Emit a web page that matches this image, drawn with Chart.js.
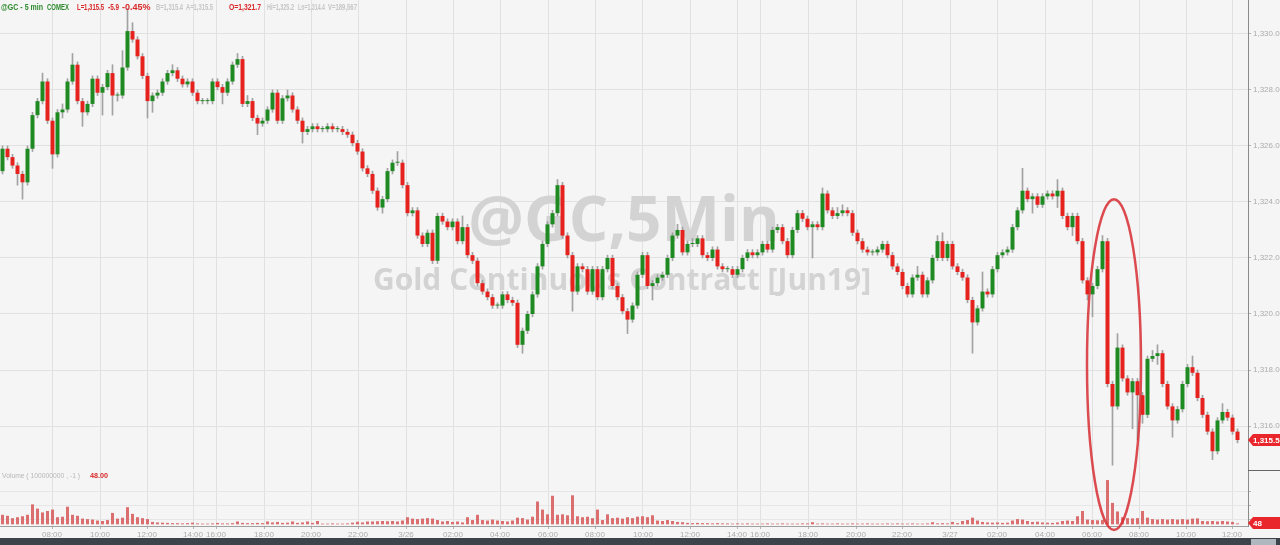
<!DOCTYPE html>
<html>
<head>
<meta charset="utf-8">
<title>@GC 5 min</title>
<script src="https://cdn.jsdelivr.net/npm/chart.js@4.4.1/dist/chart.umd.min.js"></script>
<style>
  html, body { margin: 0; padding: 0; background: #f5f5f5; }
  #wrap { width: 1280px; height: 545px; }
</style>
</head>
<body>
<div id="wrap"><canvas id="goldChart" width="1280" height="545"></canvas></div>
<script>
// --- data (one candle ~ 12.5 min) ---
const opens = [
  1325.1,1325.9,1325.6,1325.3,1325.0,1324.7,1325.9,1327.1,1327.6,1328.3,
  1326.9,1325.7,1327.2,1327.3,1328.3,1328.9,1327.6,1327.2,1327.5,1328.4,
  1327.9,1328.1,1328.6,1327.8,1327.8,1328.8,1330.1,1329.8,1329.2,1328.5,
  1327.6,1327.8,1327.9,1328.3,1328.6,1328.7,1328.4,1328.2,1328.3,1327.9,
  1327.6,1327.6,1327.6,1328.3,1328.1,1327.9,1328.3,1328.9,1329.1,1327.5,
  1327.6,1327.0,1326.8,1326.9,1327.3,1327.9,1326.9,1327.7,1327.8,1327.3,
  1326.9,1326.5,1326.6,1326.7,1326.6,1326.6,1326.7,1326.6,1326.6,1326.5,
  1326.4,1326.1,1325.8,1325.2,1325.0,1324.4,1323.8,1324.1,1325.1,1325.4,
  1325.4,1324.6,1323.6,1323.7,1322.8,1322.5,1322.9,1321.9,1323.5,1323.3,
  1323.1,1323.3,1322.6,1323.1,1322.1,1321.9,1321.1,1320.8,1320.6,1320.3,
  1320.3,1320.7,1320.5,1320.4,1318.9,1319.4,1320.0,1320.7,1321.7,1322.5,
  1323.2,1323.6,1324.6,1322.8,1322.1,1320.8,1321.7,1321.6,1320.8,1321.6,
  1320.6,1321.6,1322.0,1321.0,1320.6,1320.1,1319.8,1320.3,1321.4,1322.1,
  1321.0,1321.1,1321.3,1321.4,1322.0,1322.8,1323.0,1322.2,1322.5,1322.5,
  1322.7,1322.1,1322.0,1322.3,1321.7,1321.6,1321.6,1321.4,1321.6,1322.0,
  1322.2,1322.1,1322.2,1322.5,1322.3,1323.0,1323.1,1322.6,1322.1,1323.0,
  1323.6,1323.4,1323.1,1323.2,1323.1,1324.3,1323.7,1323.5,1323.6,1323.7,
  1323.6,1322.9,1322.6,1322.3,1322.2,1322.2,1322.3,1322.5,1322.1,1321.7,
  1321.5,1321.0,1320.7,1321.3,1321.4,1320.7,1321.2,1322.0,1322.6,1322.0,
  1322.5,1321.7,1321.5,1321.3,1320.5,1319.7,1320.2,1320.8,1320.7,1321.6,
  1322.1,1322.2,1322.3,1323.1,1323.7,1324.4,1324.1,1324.2,1323.9,1324.2,
  1324.3,1324.2,1324.4,1323.5,1323.1,1323.5,1322.6,1321.2,1320.7,1321.0,
  1321.6,1322.6,1317.5,1316.7,1318.8,1317.7,1317.2,1317.6,1317.1,1316.4,
  1318.4,1318.5,1318.6,1317.5,1316.7,1316.2,1316.6,1317.5,1318.1,1317.9,
  1317.0,1316.4,1315.8,1315.1,1316.2,1316.5,1316.3,1315.8
];
const highs = [
  1326.0,1326.0,1325.7,1325.4,1325.1,1326.0,1327.2,1327.7,1328.6,1328.4,
  1327.0,1327.3,1327.5,1328.4,1329.3,1329.0,1327.7,1327.6,1328.5,1328.5,
  1328.2,1328.7,1328.9,1327.9,1329.4,1330.9,1330.4,1329.9,1329.3,1328.6,
  1327.9,1328.0,1328.4,1328.7,1328.9,1328.8,1328.5,1328.4,1328.4,1328.0,
  1327.7,1327.7,1328.4,1328.4,1328.2,1328.4,1329.0,1329.3,1329.2,1327.8,
  1327.7,1327.1,1327.0,1327.4,1328.0,1328.0,1327.8,1328.0,1327.9,1327.4,
  1327.0,1326.7,1326.8,1326.8,1326.7,1326.8,1326.8,1326.7,1326.7,1326.6,
  1326.5,1326.2,1325.9,1325.3,1325.1,1324.5,1324.2,1325.2,1325.5,1325.8,
  1325.5,1324.7,1323.8,1323.8,1322.9,1323.0,1323.0,1323.6,1323.6,1323.4,
  1323.4,1323.4,1323.5,1323.2,1322.2,1322.0,1321.2,1320.9,1320.7,1320.4,
  1320.8,1320.8,1320.6,1320.5,1319.5,1320.1,1320.8,1321.8,1322.6,1323.3,
  1323.7,1324.8,1324.7,1322.9,1322.2,1321.8,1321.8,1321.7,1321.7,1321.7,
  1321.7,1322.1,1322.1,1321.1,1320.7,1320.2,1320.4,1321.5,1322.2,1322.2,
  1321.2,1321.4,1321.5,1322.1,1322.9,1323.2,1323.1,1322.6,1322.7,1322.8,
  1322.8,1322.2,1322.4,1322.4,1321.8,1321.7,1321.7,1321.7,1322.1,1322.3,
  1322.3,1322.3,1322.6,1322.6,1323.1,1323.2,1323.2,1322.7,1323.1,1323.7,
  1323.7,1323.5,1323.3,1323.3,1324.5,1324.4,1323.8,1323.8,1323.9,1323.8,
  1323.7,1323.0,1322.7,1322.4,1322.3,1322.4,1322.6,1322.6,1322.2,1321.8,
  1321.6,1321.1,1321.4,1321.7,1321.5,1321.3,1322.1,1322.8,1322.9,1322.6,
  1322.6,1321.8,1321.6,1321.4,1320.6,1320.3,1321.5,1320.9,1321.7,1322.2,
  1322.3,1322.4,1323.2,1323.8,1325.2,1324.5,1324.3,1324.3,1324.3,1324.4,
  1324.4,1324.8,1324.5,1323.6,1323.6,1323.6,1322.7,1321.3,1321.1,1321.7,
  1322.8,1322.7,1317.6,1319.3,1318.9,1317.8,1317.7,1317.7,1317.2,1318.5,
  1318.7,1318.9,1318.7,1317.6,1316.8,1316.7,1317.6,1318.2,1318.5,1318.0,
  1317.1,1316.5,1315.9,1316.3,1316.8,1316.6,1316.4,1315.9
];
const lows = [
  1325.0,1325.5,1325.2,1324.6,1324.1,1324.6,1325.8,1327.0,1327.5,1326.8,
  1325.2,1325.6,1327.0,1327.2,1328.2,1327.5,1326.7,1327.1,1327.4,1327.8,
  1327.1,1328.0,1327.1,1327.6,1327.7,1328.7,1329.7,1329.1,1328.4,1327.0,
  1327.2,1327.7,1327.8,1328.2,1328.5,1328.3,1328.1,1328.1,1327.8,1327.5,
  1327.5,1327.5,1327.5,1328.0,1327.5,1327.8,1328.2,1328.8,1327.4,1327.4,
  1326.9,1326.4,1326.7,1326.8,1327.2,1326.8,1326.8,1327.6,1327.2,1326.8,
  1326.1,1326.4,1326.5,1326.5,1326.5,1326.5,1326.5,1326.5,1326.4,1326.3,
  1326.0,1325.7,1325.1,1324.9,1324.3,1323.7,1323.6,1324.0,1325.0,1325.3,
  1324.5,1323.5,1323.5,1322.7,1322.4,1322.4,1321.8,1321.8,1323.2,1323.0,
  1323.0,1322.5,1322.5,1322.0,1321.8,1321.0,1320.7,1320.5,1320.2,1320.2,
  1320.2,1320.4,1320.3,1318.8,1318.6,1319.3,1319.9,1320.6,1321.6,1322.4,
  1323.1,1323.5,1322.7,1322.0,1320.1,1320.7,1321.5,1320.7,1320.7,1320.5,
  1320.5,1321.5,1320.9,1320.5,1320.0,1319.3,1319.7,1320.2,1321.3,1320.9,
  1320.5,1321.0,1321.2,1321.3,1321.9,1322.7,1322.1,1322.1,1322.4,1322.4,
  1322.0,1321.9,1321.9,1321.6,1321.5,1321.5,1321.3,1321.3,1321.5,1321.9,
  1322.0,1322.0,1322.1,1322.2,1322.2,1322.9,1322.5,1322.0,1322.0,1322.9,
  1323.3,1323.0,1322.0,1323.0,1323.0,1323.6,1323.4,1323.4,1323.5,1323.5,
  1322.8,1322.5,1322.2,1322.1,1322.1,1322.1,1322.2,1322.0,1321.6,1321.4,
  1320.9,1320.6,1320.6,1321.2,1320.6,1320.6,1321.1,1321.9,1321.9,1321.9,
  1321.6,1321.4,1321.2,1320.4,1318.6,1319.6,1320.1,1320.6,1320.6,1321.5,
  1322.0,1322.1,1322.2,1323.0,1323.6,1324.0,1323.6,1323.8,1323.8,1324.1,
  1324.1,1323.8,1323.4,1323.0,1322.8,1322.5,1321.1,1320.5,1319.9,1320.9,
  1321.5,1317.4,1314.6,1316.6,1317.6,1317.1,1315.9,1315.5,1316.1,1316.3,
  1318.3,1318.2,1317.4,1316.6,1315.6,1316.1,1316.5,1317.4,1317.8,1316.9,
  1316.3,1315.7,1314.8,1315.0,1316.1,1316.2,1315.7,1315.4
];
const closes = [
  1325.9,1325.6,1325.3,1325.0,1324.7,1325.9,1327.1,1327.6,1328.3,1326.9,
  1325.7,1327.2,1327.3,1328.3,1328.9,1327.6,1327.2,1327.5,1328.4,1327.9,
  1328.1,1328.6,1327.8,1327.8,1328.8,1330.1,1329.8,1329.2,1328.5,1327.6,
  1327.8,1327.9,1328.3,1328.6,1328.7,1328.4,1328.2,1328.3,1327.9,1327.6,
  1327.6,1327.6,1328.3,1328.1,1327.9,1328.3,1328.9,1329.1,1327.5,1327.6,
  1327.0,1326.8,1326.9,1327.3,1327.9,1326.9,1327.7,1327.8,1327.3,1326.9,
  1326.5,1326.6,1326.7,1326.6,1326.6,1326.7,1326.6,1326.6,1326.5,1326.4,
  1326.1,1325.8,1325.2,1325.0,1324.4,1323.8,1324.1,1325.1,1325.4,1325.4,
  1324.6,1323.6,1323.7,1322.8,1322.5,1322.9,1321.9,1323.5,1323.3,1323.1,
  1323.3,1322.6,1323.1,1322.1,1321.9,1321.1,1320.8,1320.6,1320.3,1320.3,
  1320.7,1320.5,1320.4,1318.9,1319.4,1320.0,1320.7,1321.7,1322.5,1323.2,
  1323.6,1324.6,1322.8,1322.1,1320.8,1321.7,1321.6,1320.8,1321.6,1320.6,
  1321.6,1322.0,1321.0,1320.6,1320.1,1319.8,1320.3,1321.4,1322.1,1321.0,
  1321.1,1321.3,1321.4,1322.0,1322.8,1323.0,1322.2,1322.5,1322.5,1322.7,
  1322.1,1322.0,1322.3,1321.7,1321.6,1321.6,1321.4,1321.6,1322.0,1322.2,
  1322.1,1322.2,1322.5,1322.3,1323.0,1323.1,1322.6,1322.1,1323.0,1323.6,
  1323.4,1323.1,1323.2,1323.1,1324.3,1323.7,1323.5,1323.6,1323.7,1323.6,
  1322.9,1322.6,1322.3,1322.2,1322.2,1322.3,1322.5,1322.1,1321.7,1321.5,
  1321.0,1320.7,1321.3,1321.4,1320.7,1321.2,1322.0,1322.6,1322.0,1322.5,
  1321.7,1321.5,1321.3,1320.5,1319.7,1320.2,1320.8,1320.7,1321.6,1322.1,
  1322.2,1322.3,1323.1,1323.7,1324.4,1324.1,1324.2,1323.9,1324.2,1324.3,
  1324.2,1324.4,1323.5,1323.1,1323.5,1322.6,1321.2,1320.7,1321.0,1321.6,
  1322.6,1317.5,1316.7,1318.8,1317.7,1317.2,1317.6,1317.1,1316.4,1318.4,
  1318.5,1318.6,1317.5,1316.7,1316.2,1316.6,1317.5,1318.1,1317.9,1317.0,
  1316.4,1315.8,1315.1,1316.2,1316.5,1316.3,1315.8,1315.5
];
const volumes = [
  2000,1800,1300,1500,1700,2000,4200,3300,2500,2800,
  3100,1500,1600,3700,2000,1800,1200,1100,1000,800,
  700,900,2400,1200,1400,3600,2200,1500,1300,1100,
  500,400,350,300,250,250,200,250,350,200,
  150,150,200,300,200,200,250,600,300,250,
  250,300,250,600,400,500,300,350,600,300,
  400,600,300,700,150,150,200,150,150,200,
  350,550,400,600,600,650,700,650,700,600,
  800,1500,1200,1100,1200,1300,1200,900,600,700,
  500,600,400,1500,900,2000,900,800,1000,800,
  700,600,800,1400,1300,1000,1600,4800,3100,2100,
  6000,2000,2100,1900,6100,1700,1500,1600,1300,3100,
  900,2100,1300,1400,1200,1500,1300,1600,1700,1500,
  1900,800,700,900,700,500,450,300,250,300,
  250,250,200,250,200,200,150,200,150,200,
  150,150,150,200,150,150,200,150,150,150,
  200,200,450,150,200,150,150,200,150,150,
  200,150,150,200,150,150,150,200,150,200,
  150,150,200,150,150,200,450,200,250,200,
  500,250,700,900,1400,800,500,400,350,400,
  300,350,800,1100,1000,700,500,550,400,350,
  300,400,700,800,700,1700,2800,1000,900,850,
  900,9300,4500,2700,1500,1300,1250,1300,2800,1400,
  1100,1000,1100,1000,1100,1000,1100,1000,1200,1250,
  700,650,700,600,700,600,500,200
];

// time axis: candle index where each label sits
const tickPos = [9.9,19.5,28.9,38.1,42.7,52.3,61.7,71.1,80.7,90.1,99.5,109.1,118.5,128.1,
                 137.5,146.9,151.5,161.1,170.7,179.9,189.5,198.9,208.5,217.9,227.3,236.7,245.9];
const tickLabels = ['08:00','10:00','12:00','14:00','16:00','18:00','20:00','22:00','3/26',
                    '02:00','04:00','06:00','08:00','10:00','12:00','14:00','16:00','18:00',
                    '20:00','22:00','3/27','02:00','04:00','06:00','08:00','10:00','12:00'];
const priceTicks = [1316,1318,1320,1322,1324,1326,1328,1330];
const volTicks = [1000,2000,3000,4000,5000,6000,7000,8000,9000];
const volLabelled = [2000,5000,8000];

const lastVolume = 48;
const UP = '#1f8a22';
const DOWN = '#e5221d';
const AXIS_TXT = '#acacac';
const GRID = '#e1e1e1';

Chart.defaults.font.family = '"Liberation Sans", Arial, sans-serif';

const fmt = (v, d) => v.toLocaleString('en-US', {minimumFractionDigits: d, maximumFractionDigits: d});

// axes must not push the plot area around
const noPad = s => { s.paddingTop = 0; s.paddingBottom = 0; s.paddingLeft = 0; s.paddingRight = 0; };

const bgPlugin = {
  id: 'bg',
  beforeDraw(chart) {
    const ctx = chart.ctx;
    ctx.save();
    ctx.fillStyle = '#f5f5f5';
    ctx.fillRect(0, 0, chart.width, chart.height);
    ctx.restore();
  }
};

// big grey watermark behind the candles
const watermark = {
  id: 'watermark',
  beforeDatasetsDraw(chart) {
    const ctx = chart.ctx;
    ctx.save();
    ctx.fillStyle = '#d3d3d3';
    ctx.textAlign = 'center';
    ctx.font = 'bold 62px "Open Sans"';
    ctx.fillText('@GC,5Min', 624, 241);
    ctx.font = 'bold 30px "Open Sans"';
    ctx.fillText('Gold Continuous Contract [Jun19]', 622, 290);
    ctx.restore();
  }
};

// red ring around the drop
const ring = {
  id: 'ring',
  afterDatasetsDraw(chart) {
    const {ctx, scales} = chart;
    const cx = scales.x.getPixelForValue(222.3);
    const top = scales.y.getPixelForValue(1324.1);
    const bottom = chart.chartArea.bottom + 4;
    ctx.save();
    ctx.strokeStyle = 'rgba(214,45,50,0.85)';
    ctx.lineWidth = 2.5;
    ctx.beginPath();
    ctx.ellipse(cx, (top + bottom) / 2, 27, (bottom - top) / 2, 0, 0, Math.PI * 2);
    ctx.stroke();
    ctx.restore();
  }
};

const overlay = {
  id: 'overlay',
  afterDraw(chart) {
    const {ctx, scales, chartArea} = chart;
    ctx.save();
    // header line
    ctx.textBaseline = 'alphabetic';
    ctx.textAlign = 'left';
    ctx.font = 'bold 9px "Liberation Sans"';
    const parts = [
      ['@GC - 5 min', 1, 42, '#2c8a2c'], ['COMEX', 47, 22, '#2c8a2c'],
      ['L=1,315.5', 77, 27, '#d8282a'], ['-5.9', 108, 11, '#d8282a'], ['-0.45%', 122, 30, '#d8282a'],
      ['B=1,315.4', 156, 27, '#c6c6c6'], ['A=1,315.5', 186, 27, '#c6c6c6'],
      ['O=1,321.7', 229, 32, '#d8282a'],
      ['Hi=1,325.2', 267, 27, '#c6c6c6'], ['Lo=1,314.4', 298, 27, '#c6c6c6'], ['V=189,567', 328, 29, '#c6c6c6']
    ];
    parts.forEach(([t, x, w, c]) => { ctx.fillStyle = c; ctx.fillText(t, x, 10, w); });

    // volume pane title
    const vTop = scales.yv.top;
    ctx.font = '8px "Liberation Sans"';
    ctx.fillStyle = '#b8b8b8';
    ctx.fillText('Volume ( 100000000 , -1 )', 2, vTop + 8, 78);
    ctx.font = 'bold 8px "Liberation Sans"';
    ctx.fillStyle = '#d8282a';
    ctx.fillText(fmt(lastVolume, 2), 90, vTop + 8, 18);

    // pane separator on the axis side
    ctx.strokeStyle = '#666';
    ctx.lineWidth = 1;
    ctx.beginPath();
    ctx.moveTo(chartArea.right, scales.y.bottom + 0.5);
    ctx.lineTo(chart.width, scales.y.bottom + 0.5);
    ctx.stroke();

    // last price / last volume tags
    const tag = (y, text) => {
      ctx.fillStyle = '#e8262b';
      ctx.beginPath();
      ctx.moveTo(chartArea.right, y);
      ctx.lineTo(chartArea.right + 5, y - 6);
      ctx.lineTo(chart.width, y - 6);
      ctx.lineTo(chart.width, y + 6);
      ctx.lineTo(chartArea.right + 5, y + 6);
      ctx.closePath();
      ctx.fill();
      ctx.fillStyle = '#fff';
      ctx.font = 'bold 8px "Liberation Sans"';
      ctx.fillText(text, chartArea.right + 5, y + 3);
    };
    tag(scales.y.getPixelForValue(closes[closes.length - 1]), fmt(closes[closes.length - 1], 1));
    tag(Math.min(scales.yv.getPixelForValue(lastVolume), chartArea.bottom - 3), String(lastVolume));

    // scrollbar strip
    ctx.fillStyle = '#3d434a';
    ctx.fillRect(0, 538, chart.width, 7);
    ctx.fillStyle = '#b0b7be';
    ctx.fillRect(1251, 539, 25, 6);
    ctx.restore();
  }
};

const idx = closes.map((_, i) => i);

new Chart(document.getElementById('goldChart'), {
  type: 'bar',
  data: {
    datasets: [
      {
        label: 'wick',
        data: idx.map(i => ({x: i, y: [lows[i], highs[i]]})),
        backgroundColor: '#a2a2a2',
        barThickness: 1,
        grouped: false,
        yAxisID: 'y',
        order: 3
      },
      {
        label: 'body',
        data: idx.map(i => ({x: i, y: [opens[i], closes[i]]})),
        backgroundColor: idx.map(i => closes[i] >= opens[i] ? UP : DOWN),
        categoryPercentage: 1,
        barPercentage: 0.8,
        minBarLength: 1,
        grouped: false,
        yAxisID: 'y',
        order: 2
      },
      {
        label: 'Volume',
        data: idx.map(i => ({x: i, y: volumes[i]})),
        backgroundColor: 'rgba(214,82,82,0.82)',
        categoryPercentage: 1,
        barPercentage: 0.6,
        grouped: false,
        yAxisID: 'yv',
        order: 1
      }
    ]
  },
  options: {
    responsive: false,
    animation: false,
    devicePixelRatio: 1,
    events: [],
    layout: { padding: { left: 0, right: 0, top: 0, bottom: 7 } },
    plugins: { legend: { display: false }, tooltip: { enabled: false } },
    scales: {
      x: {
        type: 'linear',
        position: 'bottom',
        offset: false,
        min: -0.5,
        max: 249.1,
        afterBuildTicks: s => { s.ticks = tickPos.map(v => ({value: v})); },
        afterFit: s => { s.height = 12; noPad(s); },
        ticks: {
          autoSkip: false, maxRotation: 0, padding: 1,
          color: AXIS_TXT, font: { size: 8 },
          callback: (v, i) => tickLabels[i]
        },
        grid: { offset: false, color: GRID, tickLength: 3, tickColor: '#b5b5b5' },
        border: { color: '#a0a0a0' }
      },
      y: {
        type: 'linear',
        position: 'right',
        stack: 'panes',
        stackWeight: 470,
        min: 1314.43,
        max: 1331.21,
        afterBuildTicks: s => { s.ticks = priceTicks.map(v => ({value: v})); },
        afterFit: s => { s.width = 32; noPad(s); },
        ticks: { color: AXIS_TXT, font: { size: 8 }, padding: 2, callback: v => fmt(v, 1) },
        grid: { color: GRID, tickLength: 3, tickColor: '#b5b5b5' },
        border: { color: '#8a8a8a' }
      },
      yv: {
        type: 'linear',
        position: 'right',
        stack: 'panes',
        stackWeight: 56,
        min: -350,
        max: 11410,
        afterBuildTicks: s => { s.ticks = volTicks.map(v => ({value: v})); },
        afterFit: s => { s.width = 32; noPad(s); },
        ticks: {
          color: AXIS_TXT, font: { size: 8 }, padding: 2,
          callback: v => volLabelled.includes(v) ? fmt(v, 0) : ''
        },
        grid: { color: '#e6e6e6', tickLength: 3, tickColor: '#b5b5b5' },
        border: { color: '#8a8a8a' }
      }
    }
  },
  plugins: [bgPlugin, watermark, ring, overlay]
});
</script>
</body>
</html>
